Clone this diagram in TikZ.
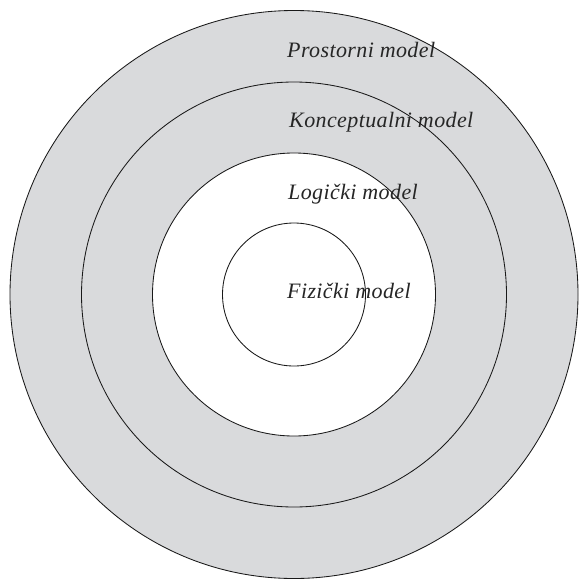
\documentclass[tikz,border=0pt]{standalone}
\usepackage{fontspec}
\setmainfont{Liberation Serif}
\definecolor{ringgrey}{HTML}{D9DADC}
\begin{document}
\begin{tikzpicture}[x=1pt,y=-1pt,
  ring/.style={draw=black!90, line width=0.85pt},
  label/.style={anchor=base west, inner sep=0pt,
    font=\fontsize{22}{26}\selectfont\itshape\addfontfeatures{LetterSpace=1.8}, text=black!85}]
\useasboundingbox (0,0) rectangle (579,581);
\coordinate (c) at (294,294.5);
% filled rings, outermost first
\fill[ringgrey] (c) circle[radius=284];
\fill[ringgrey] (c) circle[radius=212.5];
\fill[white] (c) circle[radius=141.5];
\fill[white] (c) circle[radius=71.5];
% labels
\node[label] (prostorni) at (287,57) {Prostorni model};
\node[label] (konceptualni) at (289,127) {Konceptualni model};
\node[label] (logicki) at (288,199) {Logički model};
\node[label] (fizicki) at (287,298) {Fizički model};
% outlines
\draw[ring] (c) circle[radius=284];
\draw[ring] (c) circle[radius=212.5];
\draw[ring] (c) circle[radius=141.5];
\draw[ring] (c) circle[radius=71.5];
\end{tikzpicture}
\end{document}
